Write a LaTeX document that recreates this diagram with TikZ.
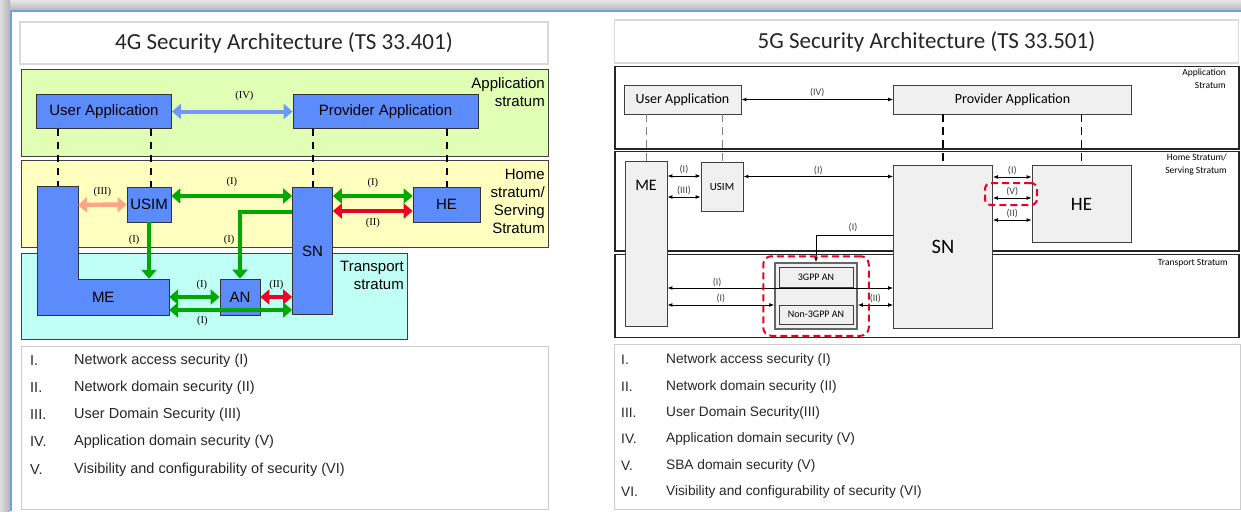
\documentclass[tikz,border=0pt]{standalone}
\usepackage{fontspec}
\setmainfont{Liberation Sans}
\newfontfamily\calibri{Carlito}
\newfontfamily\timesf{Liberation Serif}
\usetikzlibrary{arrows.meta, fit}

\definecolor{appgreen}{RGB}{224,255,180}
\definecolor{homeyellow}{RGB}{255,255,192}
\definecolor{transcyan}{RGB}{192,255,246}
\definecolor{boxblue}{RGB}{92,140,252}
\definecolor{boxgray}{RGB}{240,240,240}
\definecolor{lgreen}{RGB}{0,168,0}
\definecolor{lred}{RGB}{238,0,36}
\definecolor{lsalmon}{RGB}{255,165,135}
\definecolor{lblue}{RGB}{112,152,250}
\definecolor{slideline}{RGB}{110,160,225}

\tikzset{
  x=1pt, y=-1pt, % one unit is one pixel of the slide, y runs down
  titlebox/.style={draw=black!15, line width=1.2pt, inner sep=0pt, text=black!85, font=\calibri\fontsize{23}{26}\selectfont},
  band/.style={draw=black!75, line width=0.8pt}, % coloured strata of the 4G picture
  band5/.style={draw=black!85, line width=1.2pt, fill=white}, % strata of the 5G picture
  box4/.style={draw=black!80, fill=boxblue, line width=0.8pt, inner sep=0pt, font=\fontsize{15}{18}\selectfont},
  box5/.style={draw=black!75, fill=boxgray, line width=0.8pt, inner sep=0pt, font=\calibri\fontsize{14}{16}\selectfont},
  fat/.style={line width=4.5pt, >={Triangle[length=9pt,width=15pt]}, <->}, % bold 4G arrows
  fat1/.style={line width=4.5pt, >={Triangle[length=9pt,width=15pt]}, ->},
  link5/.style={line width=0.9pt, >={Latex[length=5pt,width=4pt]}, <->}, % thin 5G arrows
  link5one/.style={line width=0.9pt, >={Latex[length=5pt,width=4pt]}, ->},
  tie4/.style={line width=2pt, dash pattern=on 7pt off 6pt},
  tie5/.style={line width=1.5pt, dash pattern=on 8pt off 5pt},
  lbl4/.style={font=\timesf\fontsize{10.5}{12}\selectfont, inner sep=0pt, text=black},
  lbl5/.style={font=\calibri\fontsize{10}{12}\selectfont, inner sep=0pt, text=black!75},
  stratum4/.style={align=right, inner sep=0pt, font=\fontsize{15}{18}\selectfont},
  stratum5/.style={align=right, inner sep=0pt, font=\calibri\fontsize{9.5}{12.5}\selectfont},
  reddash/.style={draw=lred, line width=2pt, dash pattern=on 7pt off 4pt, rounded corners=8pt},
  legbox/.style={draw=black!20, line width=1pt},
  leg4/.style={anchor=west, inner sep=0pt, text=black!85, font=\fontsize{14.5}{16}\selectfont},
  leg5/.style={anchor=west, inner sep=0pt, text=black!85, font=\fontsize{13.7}{16}\selectfont},
}

\begin{document}
\begin{tikzpicture}
  \useasboundingbox (0,0) rectangle (1241,511);
  % slide frame
  \fill[white] (0,0) rectangle (1241,511);
  \shade[top color=gray!20, bottom color=gray!55] (0,0) rectangle (1241,10);
  \shade[left color=gray!25, right color=gray!60] (0,0) rectangle (10,511);
  \draw[slideline, line width=1.5pt] (11,511) -- (11,11) -- (1241,11);

  %%% 4G
  \node[titlebox, minimum width=528, minimum height=42] (title4) at (284,43) {4G Security Architecture (TS 33.401)};
  \draw[band, fill=appgreen] (21,69) rectangle (548,156);
  \draw[band, fill=homeyellow] (21,160) rectangle (548,247);
  \draw[band, fill=transcyan] (21,253) rectangle (407,339);
  \node[stratum4, anchor=north east] (app4) at (545,77) {Application\\stratum};
  \node[stratum4, anchor=north east] (home4) at (545,169) {Home\\stratum/\\Serving\\Stratum};
  \node[stratum4, anchor=north east] (trans4) at (404,261) {Transport\\stratum};

  \node[box4, minimum width=135, minimum height=34] (ua4) at (104,111.5) {User Application};
  \node[box4, minimum width=185, minimum height=34] (pa4) at (385.5,111.5) {Provider Application};
  \node[box4, minimum width=44, minimum height=35] (usim4) at (149,204.5) {USIM};
  \node[box4, minimum width=40, minimum height=127] (sn4) at (312.5,251) {SN};
  \node[box4, minimum width=67, minimum height=35] (he4) at (446.5,204.5) {HE};
  \node[box4, minimum width=40, minimum height=36] (an4) at (240,297) {AN};
  \coordinate (me4top) at (58,186.5);
  \coordinate (me4bar) at (78,205);
  \draw[tie4] (me4top |- ua4.south) -- (me4top);
  \draw[tie4] ([xshift=2pt]usim4.north |- ua4.south) -- ([xshift=2pt]usim4.north);
  \draw[tie4] (sn4.north |- pa4.south) -- (sn4.north);
  \draw[tie4] (he4.north |- pa4.south) -- (he4.north);

  \draw[box4] (37.5,186.5) -- (78,186.5) -- (78,279) -- (169,279) -- (169,315) -- (37.5,315) -- cycle;
  \node[inner sep=0pt, minimum width=131.5, minimum height=36, font=\fontsize{15}{18}\selectfont] (me4) at (103.25,297) {ME};

  \draw[fat, lblue, line width=4pt] (ua4.east) -- node[lbl4, pos=0.6, yshift=16pt]{(IV)} (pa4.west);
  \draw[fat, lsalmon] (me4bar) -- node[lbl4, yshift=13pt]{(III)} (usim4.west);
  \draw[fat, lgreen] (usim4.east |- 0,196) -- node[lbl4, yshift=14pt]{(I)} (sn4.west |- 0,196);
  \draw[fat, lgreen] (sn4.east |- 0,196) -- node[lbl4, yshift=13pt]{(I)} (he4.west |- 0,196);
  \draw[fat, lred] (sn4.east |- 0,211) -- node[lbl4, yshift=-12pt]{(II)} (he4.west |- 0,211);
  \draw[fat1, lgreen] (usim4.south) -- node[lbl4, pos=0.32, xshift=-15pt]{(I)} (usim4.south |- me4.north);
  \draw[fat1, lgreen] (sn4.west |- 0,212) -| node[lbl4, pos=0.71, xshift=-11pt]{(I)} (an4.north);
  \draw[fat, lgreen] (me4.east |- 0,297) -- node[lbl4, pos=0.65, yshift=12pt]{(I)} (an4.west |- 0,297);
  \draw[fat, lred] (an4.east |- 0,297) -- node[lbl4, yshift=12pt]{(II)} (sn4.west |- 0,297);
  \draw[fat, lgreen] (me4.east |- 0,310) -- node[lbl4, pos=0.27, yshift=-11pt]{(I)} (sn4.west |- 0,310);

  \draw[legbox] (21.5,346) rectangle (548,509);
  \node[leg4] (n41) at (30,361) {I.};   \node[leg4] (t41) at (74,361) {Network access security (I)};
  \node[leg4] (n42) at (30,388) {II.};  \node[leg4] (t42) at (74,388) {Network domain security (II)};
  \node[leg4] (n43) at (30,415) {III.}; \node[leg4] (t43) at (74,415) {User Domain Security (III)};
  \node[leg4] (n44) at (30,442) {IV.};  \node[leg4] (t44) at (74,442) {Application domain security (V)};
  \node[leg4] (n45) at (30,470) {V.};   \node[leg4] (t45) at (74,470) {Visibility and configurability of security (VI)};

  %%% 5G
  \node[titlebox, minimum width=624, minimum height=43] (title5) at (926.5,41.5) {5G Security Architecture (TS 33.501)};
  \draw[band5] (615,66.5) rectangle (1239,149);
  \draw[band5] (615,151.5) rectangle (1239,251);
  \draw[band5] (615,254.5) rectangle (1239,337.5);
  \node[stratum5, anchor=north east] (app5) at (1226,69) {Application\\Stratum};
  \node[stratum5, anchor=north east] (home5) at (1227,154) {Home Stratum/\\Serving Stratum};
  \node[stratum5, anchor=north east] (trans5) at (1228,259) {Transport Stratum};

  \node[box5, minimum width=117, minimum height=29] (ua5) at (682.5,99.5) {User Application};
  \node[box5, minimum width=238, minimum height=29] (pa5) at (1012.5,99.5) {Provider Application};
  \node[box5, minimum width=42, minimum height=165,
        label={[font=\calibri\fontsize{16}{18}\selectfont, anchor=center, yshift=-24pt]north:ME}] (me5) at (646,244) {};
  \node[box5, minimum width=42, minimum height=49, font=\calibri\fontsize{11}{13}\selectfont] (usim5) at (722,186.5) {USIM};
  \node[box5, minimum width=99, minimum height=163, font=\calibri\fontsize{20.5}{22}\selectfont] (sn5) at (943,246.5) {SN};
  \node[box5, minimum width=99, minimum height=77, font=\calibri\fontsize{19}{21}\selectfont] (he5) at (1081.5,204) {HE};
  \node[box5, minimum width=82, minimum height=66, draw=black!60, line width=1.5pt] (an5) at (816,296) {};
  \node[box5, minimum width=74, minimum height=20, font=\calibri\fontsize{10}{12}\selectfont] (gpp5) at (816,277) {3GPP AN};
  \node[box5, minimum width=74, minimum height=19, font=\calibri\fontsize{10}{12}\selectfont] (ngpp5) at (816,314.5) {Non-3GPP AN};

  \draw[tie5, gray, line width=1pt] (me5.north |- ua5.south) -- (me5.north);
  \draw[tie5, gray, line width=1pt] (usim5.north |- ua5.south) -- (usim5.north);
  \draw[tie5] (sn5.north |- pa5.south) -- (sn5.north);
  \draw[tie5] (he5.north |- pa5.south) -- (he5.north);

  \draw[link5] (ua5.east) -- node[lbl5, yshift=7pt]{(IV)} (pa5.west);
  \draw[link5] (me5.east |- 0,176) -- node[lbl5, yshift=6pt]{(I)} (usim5.west |- 0,176);
  \draw[link5] (me5.east |- 0,197) -- node[lbl5, yshift=6pt]{(III)} (usim5.west |- 0,197);
  \draw[link5] (usim5.east |- 0,176.5) -- node[lbl5, yshift=6pt]{(I)} (sn5.west |- 0,176.5);
  \draw[link5] (sn5.east |- 0,177) -- node[lbl5, yshift=6pt]{(I)} (he5.west |- 0,177);
  \draw[link5] (sn5.east |- 0,198) -- node[lbl5, yshift=6pt]{(V)} (he5.west |- 0,198);
  \draw[link5] (sn5.east |- 0,220) -- node[lbl5, yshift=6pt]{(II)} (he5.west |- 0,220);
  \draw[link5one] (sn5.west |- 0,235) -| node[lbl5, pos=0.26, yshift=7pt]{(I)} (gpp5.north |- an5.north);
  \draw[link5] (me5.east |- 0,288) -- node[lbl5, pos=0.22, yshift=5pt]{(I)} (sn5.west |- 0,288);
  \draw[link5] (me5.east |- 0,305) -- node[lbl5, yshift=6pt]{(I)} (an5.west |- 0,305);
  \draw[link5] (an5.east |- 0,305) -- node[lbl5, yshift=6pt]{(II)} (sn5.west |- 0,305);

  \node[reddash, fit=(an5), inner xsep=11pt, inner ysep=6pt] (anmark) {};
  \node[reddash, rounded corners=6pt, minimum width=52, minimum height=22] (vmark) at (1011,194) {};

  \draw[legbox] (614,344) rectangle (1240,509);
  \node[leg5] (n51) at (621,360) {I.};   \node[leg5] (t51) at (666,360) {Network access security (I)};
  \node[leg5] (n52) at (621,386.5) {II.};  \node[leg5] (t52) at (666,386.5) {Network domain security (II)};
  \node[leg5] (n53) at (621,412.5) {III.}; \node[leg5] (t53) at (666,412.5) {User Domain Security(III)};
  \node[leg5] (n54) at (621,438.5) {IV.};  \node[leg5] (t54) at (666,438.5) {Application domain security (V)};
  \node[leg5] (n55) at (621,465.5) {V.};   \node[leg5] (t55) at (666,465.5) {SBA domain security (V)};
  \node[leg5] (n56) at (621,491.5) {VI.};  \node[leg5] (t56) at (666,491.5) {Visibility and configurability of security (VI)};
\end{tikzpicture}
\end{document}
